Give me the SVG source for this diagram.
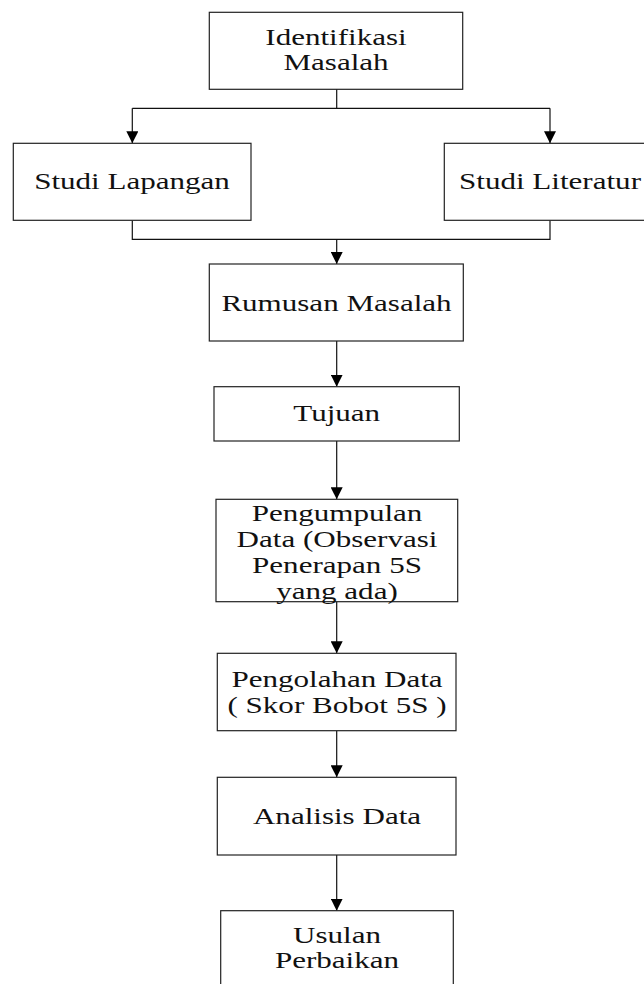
<svg xmlns="http://www.w3.org/2000/svg" width="644" height="984" viewBox="0 0 644 984">
<style>
.box{fill:#fff;stroke:#222;stroke-width:1.2}
.ln{fill:none;stroke:#111;stroke-width:1.2}
text{font-family:"Liberation Serif","Times New Roman",serif;font-size:22.5px;fill:#111;text-anchor:middle}
</style>
<defs>
<marker id="ah" markerUnits="userSpaceOnUse" markerWidth="14" markerHeight="12" refX="12" refY="6" orient="auto">
<path d="M0,0 L12,6 L0,12 Z" fill="#000"/>
</marker>
</defs>
<rect width="644" height="984" fill="#fff"/>
<g id="connectors">
<path class="ln" d="M336.7,89 V108.3"/>
<path class="ln" d="M132.3,108.3 H550"/>
<path class="ln" d="M132.3,108.3 V143.3" marker-end="url(#ah)"/>
<path class="ln" d="M550,108.3 V143.3" marker-end="url(#ah)"/>
<path class="ln" d="M132.3,220.5 V239.3 H550 V220.5"/>
<path class="ln" d="M336.7,239.3 V264" marker-end="url(#ah)"/>
<path class="ln" d="M336.7,341 V386.7" marker-end="url(#ah)"/>
<path class="ln" d="M336.7,441 V499.3" marker-end="url(#ah)"/>
<path class="ln" d="M336.7,601.7 V653.3" marker-end="url(#ah)"/>
<path class="ln" d="M336.7,730.7 V777.3" marker-end="url(#ah)"/>
<path class="ln" d="M336.7,855 V910.7" marker-end="url(#ah)"/>
</g>
<g id="identifikasi">
<rect class="box" x="209.3" y="12.3" width="253.4" height="77"/>
<text transform="matrix(1.38 0 0 1 336 45)">Identifikasi</text>
<text transform="matrix(1.38 0 0 1 336 70)">Masalah</text>
</g>
<g id="studi-lapangan">
<rect class="box" x="13.3" y="143.3" width="237.7" height="77"/>
<text transform="matrix(1.38 0 0 1 132 189.3)">Studi Lapangan</text>
</g>
<g id="studi-literatur">
<rect class="box" x="444.3" y="143.3" width="212" height="77"/>
<text transform="matrix(1.38 0 0 1 550 189.3)">Studi Literatur</text>
</g>
<g id="rumusan">
<rect class="box" x="209.3" y="264" width="254" height="77"/>
<text transform="matrix(1.38 0 0 1 336.5 310.5)">Rumusan Masalah</text>
</g>
<g id="tujuan">
<rect class="box" x="214" y="386.7" width="245.3" height="54.3"/>
<text transform="matrix(1.38 0 0 1 336.7 421)">Tujuan</text>
</g>
<g id="pengumpulan">
<rect class="box" x="216" y="499.3" width="241.7" height="102.4"/>
<text transform="matrix(1.38 0 0 1 337 521)">Pengumpulan</text>
<text transform="matrix(1.38 0 0 1 337 547)">Data (Observasi</text>
<text transform="matrix(1.38 0 0 1 337 573)">Penerapan 5S</text>
<text transform="matrix(1.38 0 0 1 337 598.5)">yang ada)</text>
</g>
<g id="pengolahan">
<rect class="box" x="217.3" y="653.3" width="238.7" height="77.4"/>
<text transform="matrix(1.38 0 0 1 337 686.7)">Pengolahan Data</text>
<text transform="matrix(1.38 0 0 1 337 713.3)">( Skor Bobot 5S )</text>
</g>
<g id="analisis">
<rect class="box" x="217.3" y="777.3" width="238.7" height="77.7"/>
<text transform="matrix(1.38 0 0 1 337 823.5)">Analisis Data</text>
</g>
<g id="usulan">
<rect class="box" x="220.7" y="910.7" width="232.6" height="100"/>
<text transform="matrix(1.38 0 0 1 337 943.3)">Usulan</text>
<text transform="matrix(1.38 0 0 1 337 968.3)">Perbaikan</text>
</g>
</svg>
